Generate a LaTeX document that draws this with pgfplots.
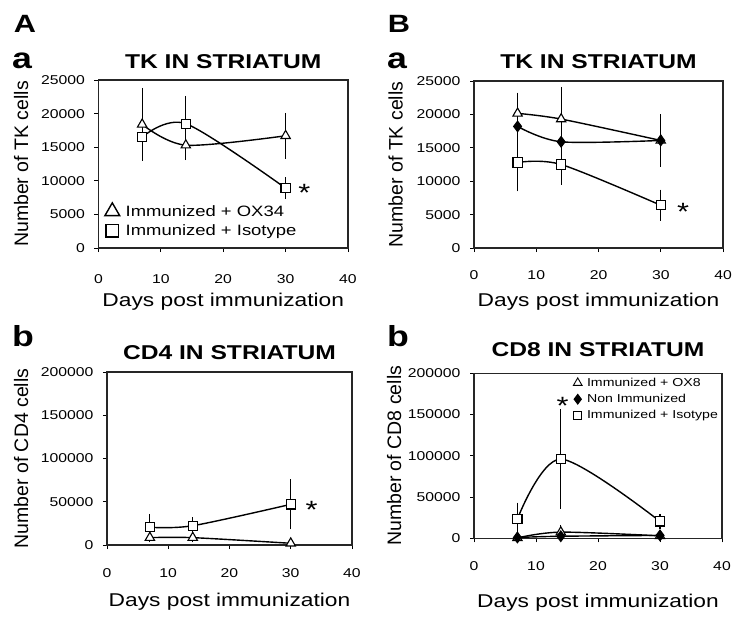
\documentclass[border=0pt]{standalone}
\usepackage{fontspec}
\setmainfont[FakeStretch=1.23]{Liberation Sans}
\newfontfamily\plainfont{Liberation Sans}
\usepackage{pgfplots}
\pgfplotsset{compat=1.18}

\newcommand\fs[1]{\fontsize{#1bp}{#1bp}\selectfont}

\pgfplotsset{
  panel/.style={
    scale only axis,
    xmin=0, xmax=40, xtick={0,10,20,30,40},
    tick align=outside, xtick pos=left, ytick pos=left,
    major tick length=4bp,
    tick style={black, line width=0.9bp},
    axis line style={black!85, line width=1.2bp},
    /pgf/number format/assume math mode=true,
    /pgf/number format/fixed,
    /pgf/number format/precision=0,
    /pgf/number format/1000 sep={},
    scaled y ticks=false,
    tick label style={font=\fs{12.8}},
    yticklabel style={xshift=-6bp},
    every axis title shift=0pt,
    title style={font=\bfseries\fs{20}, anchor=center},
    xlabel style={font=\fs{18.5}, anchor=center},
    ylabel style={font=\plainfont\fs{19.5}, anchor=center},
    every axis plot/.append style={black, line width=1.4bp, smooth,
      error bars/y dir=both, error bars/y explicit,
      error bars/error bar style={line width=1.1bp},
      error bars/error mark options={line width=1.1bp, mark size=3.5bp}},
    legend style={draw=none, fill=none},
  },
  tri/.style={mark=triangle*, mark size=5.4bp, mark options={fill=white, solid, line width=1.1bp}},
  sqr/.style={mark=square*, mark size=4.6bp, mark options={fill=white, solid, line width=1.1bp}},
  dia/.style={mark=diamond*, mark size=5bp, mark options={fill=black, solid}},
}
\tikzset{star/.style={font=\fs{25}, yshift=-5bp}}

\begin{document}
\begin{tikzpicture}
\path[use as bounding box] (0,0) rectangle (750bp,-620bp);

% panel labels
\node[font=\bfseries\fs{25}] at (25bp,-24bp) {A};
\node[font=\bfseries\fs{25}] at (399bp,-24bp) {B};
\node[font=\bfseries\fs{29}] at (22bp,-61bp) {a};
\node[font=\bfseries\fs{29}] at (397bp,-61bp) {a};
\node[font=\bfseries\fs{29}] at (23bp,-336bp) {b};
\node[font=\bfseries\fs{29}] at (398bp,-336bp) {b};

% A a : TK, OX34
\begin{axis}[panel, at={(98.5bp,-248bp)}, anchor=south west,
  width=249.5bp, height=168bp,
  ymin=0, ymax=25000, ytick={0,5000,...,25000},
  xticklabel style={yshift=-19bp},
  title={TK IN STRIATUM}, title style={at={(0.5,1.107)}},
  xlabel={Days post immunization}, xlabel style={at={(0.5,-0.32)}},
  ylabel={Number of TK cells}, ylabel style={at={(-0.31,0.5)}},
  legend style={at={(0.025,0.27)}, anchor=north west, font=\fs{15},
    row sep=3bp, column sep=4bp, inner sep=0pt},
  legend cell align=left]
\addplot[tri, forget plot] coordinates {(7,18400) +- (0,4900) (14,15300) +- (0,1700) (30,16700) +- (0,2900)};
\addplot[sqr, forget plot] coordinates {(7,16500) +- (0,2900) (14,18500) +- (0,3600) (30,8900) +- (0,1100)};
\addlegendimage{only marks, mark=triangle, mark size=8.5bp, line width=1.4bp}
\addlegendentry{Immunized + OX34}
\addlegendimage{only marks, mark=square, mark size=6.3bp, line width=1.4bp}
\addlegendentry{Immunized + Isotype}
\node[star] at (axis cs:33,8900) {*};
\end{axis}

% B a : TK, OX8
\begin{axis}[panel, at={(474bp,-248bp)}, anchor=south west,
  width=249bp, height=167bp,
  ymin=0, ymax=25000, ytick={0,5000,...,25000},
  xticklabel style={yshift=-15bp},
  title={TK IN STRIATUM}, title style={at={(0.5,1.114)}},
  xlabel={Days post immunization}, xlabel style={at={(0.5,-0.32)}},
  ylabel={Number of TK cells}, ylabel style={at={(-0.315,0.5)}}]
\addplot[tri] coordinates {(7,20150) +- (0,2600) (14,19300) +- (0,4300) (30,16100) +- (0,3400)};
\addplot[dia] coordinates {(7,18200) +- (0,2200) (14,15900) +- (0,1100) (30,16100) +- (0,1900)};
\addplot[sqr] coordinates {(7,12800) +- (0,3800) (14,12500) +- (0,2500) (30,6400) +- (0,1800)};
\node[star] at (axis cs:33.6,6200) {*};
\end{axis}

% A b : CD4
\begin{axis}[panel, at={(107bp,-545bp)}, anchor=south west,
  width=245bp, height=173bp,
  ymin=0, ymax=200000, ytick={0,50000,...,200000},
  xticklabel style={yshift=-16bp},
  title={CD4 IN STRIATUM}, title style={at={(0.5,1.11)}},
  xlabel={Days post immunization}, xlabel style={at={(0.5,-0.33)}},
  ylabel={Number of CD4 cells}, ylabel style={at={(-0.35,0.5)}}]
\addplot[tri] coordinates {(7,8500) +- (0,1500) (14,8500) +- (0,1500) (30,2000) +- (0,500)};
\addplot[sqr] coordinates {(7,20500) +- (0,11500) (14,22300) +- (0,5500) (30,47000) +- (0,25000)};
\node[star] at (axis cs:33.4,46200) {*};
\end{axis}

% B b : CD8
\begin{axis}[panel, at={(474bp,-538.3bp)}, anchor=south west,
  width=248bp, height=165bp,
  ymin=0, ymax=200000, ytick={0,50000,...,200000},
  xticklabel style={yshift=-16bp},
  title={CD8 IN STRIATUM}, title style={at={(0.5,1.145)}},
  xlabel={Days post immunization}, xlabel style={at={(0.5,-0.39)}},
  ylabel={Number of CD8 cells}, ylabel style={at={(-0.322,0.5)}},
  legend style={at={(0.4,0.985)}, anchor=north west, font=\fs{11.5},
    row sep=2.5bp, column sep=3bp, inner sep=0pt},
  legend cell align=left]
\addplot[tri, forget plot] coordinates {(7,500) +- (0,500) (14,7500) +- (0,4500) (30,3000) +- (0,1000)};
\addplot[dia, forget plot] coordinates {(7,1000) +- (0,500) (14,2500) +- (0,1000) (30,3500) +- (0,1000)};
\addplot[sqr, forget plot] coordinates {(7,23500) +- (0,15500) (14,96000) +- (0,56000) (30,20500) +- (0,5000)};
\addlegendimage{only marks, mark=triangle, mark size=5bp, line width=0.9bp}
\addlegendentry{Immunized + OX8}
\addlegendimage{only marks, mark=diamond*, mark size=4.5bp}
\addlegendentry{Non Immunized}
\addlegendimage{only marks, mark=square, mark size=4bp, line width=0.9bp}
\addlegendentry{Immunized + Isotype}
\node[star] at (axis cs:14.3,166000) {*};
\end{axis}
\end{tikzpicture}
\end{document}
